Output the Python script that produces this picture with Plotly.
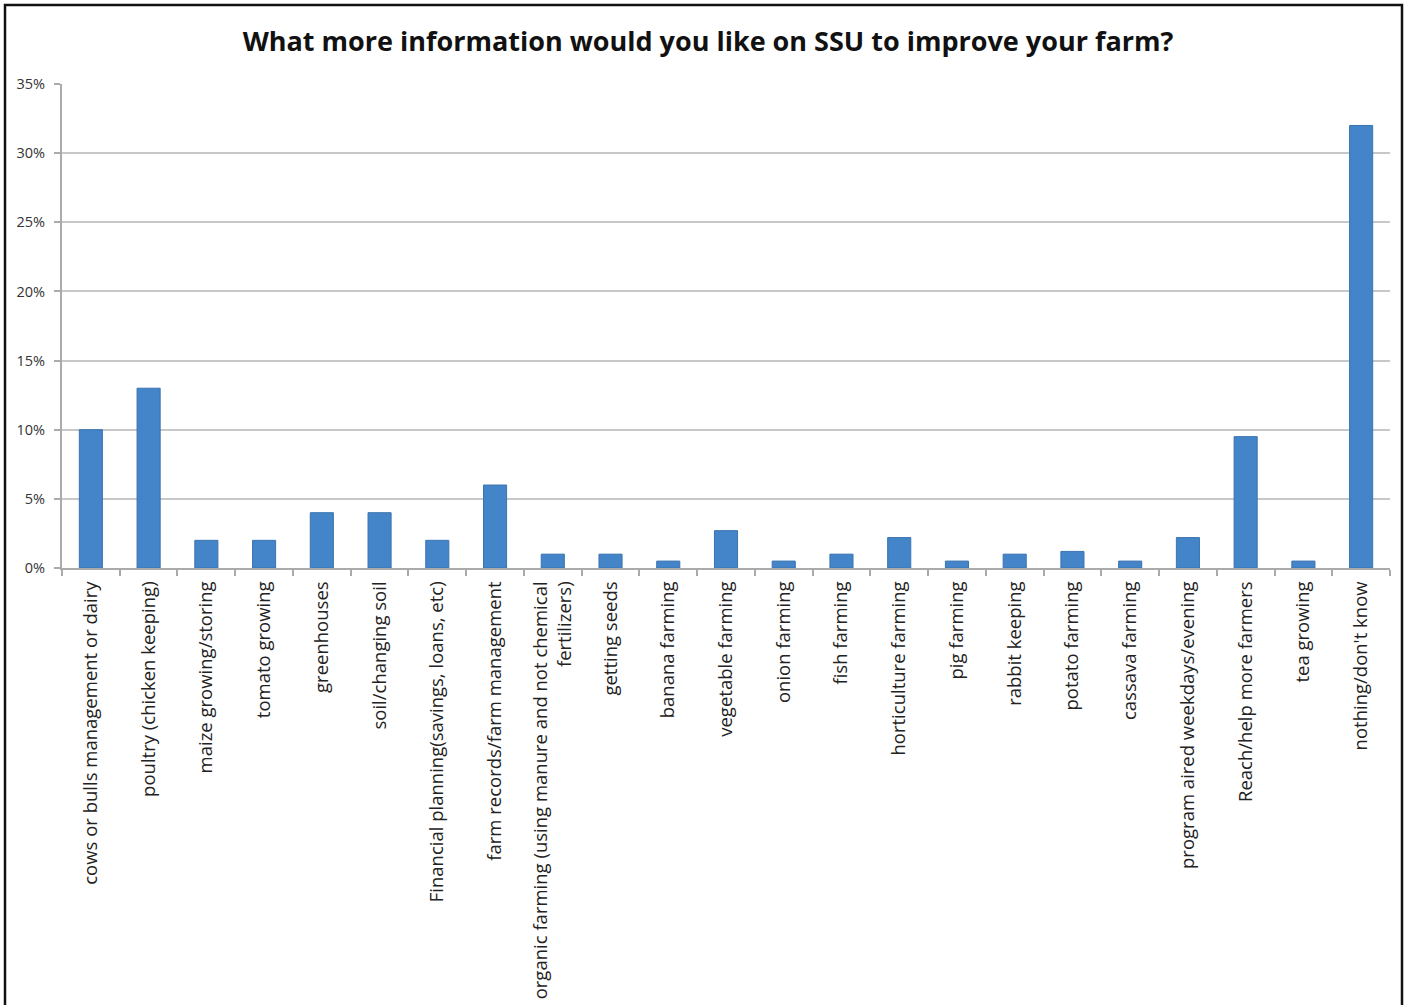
import plotly.graph_objects as go

categories = [
    "cows or bulls management or dairy",
    "poultry (chicken keeping)",
    "maize growing/storing",
    "tomato growing",
    "greenhouses",
    "soil/changing soil",
    "Financial planning(savings, loans, etc)",
    "farm records/farm management",
    "organic farming (using manure and not chemical<br>fertilizers)",
    "getting seeds",
    "banana farming",
    "vegetable farming",
    "onion farming",
    "fish farming",
    "horticulture farming",
    "pig farming",
    "rabbit keeping",
    "potato farming",
    "cassava farming",
    "program aired weekdays/evening",
    "Reach/help more farmers",
    "tea growing",
    "nothing/don't know",
]
values = [0.10, 0.13, 0.02, 0.02, 0.04, 0.04, 0.02, 0.06, 0.01, 0.01, 0.005,
          0.027, 0.005, 0.01, 0.022, 0.005, 0.01, 0.012, 0.005, 0.022, 0.095,
          0.005, 0.32]
y_ticks = [0, 0.05, 0.10, 0.15, 0.20, 0.25, 0.30, 0.35]
y_tick_labels = ["0%", "5%", "10%", "15%", "20%", "25%", "30%", "35%"]

W, H = 1405, 1005
L, R, T, B = 62, 15, 84, 437
pw, ph = W - L - R, H - T - B

def px_x(x):
    return (x - L) / pw

def px_y(y):
    return (H - B - y) / ph

fig = go.Figure(go.Bar(
    x=categories, y=values,
    marker=dict(color="#4385C8", line=dict(color="#3A74B0", width=1)),
    width=0.4,
))

fig.update_layout(
    width=W, height=H,
    margin=dict(l=L, r=R, t=T, b=B, autoexpand=False),
    paper_bgcolor="white", plot_bgcolor="white",
    font=dict(family="'Open Sans', sans-serif", color="#222"),
    showlegend=False,
    title=dict(text="<b>What more information would you like on SSU to improve your farm?</b>",
               x=px_x(708), xanchor="center", xref="paper", y=1 - 42 / H, yanchor="middle",
               font=dict(size=27, color="#111", family="'Open Sans', sans-serif")),
    shapes=[dict(type="rect", xref="paper", yref="paper",
                 x0=px_x(5), x1=px_x(1402), y0=px_y(1030), y1=px_y(5),
                 line=dict(color="#111", width=2.5), fillcolor="rgba(0,0,0,0)", layer="above")],
)
fig.update_xaxes(
    tickangle=-90, tickfont=dict(size=18.5, color="#222"),
    showline=True, linecolor="#AAAAAA", linewidth=2,
    ticks="outside", tickson="boundaries", ticklen=6, tickcolor="#AAAAAA", tickwidth=2,
    ticklabelstandoff=4, automargin=False,
    showgrid=False,
)
fig.update_yaxes(
    range=[0, 0.35], tickvals=y_ticks, ticktext=y_tick_labels,
    tickfont=dict(size=14.5, color="#333"),
    showgrid=True, gridcolor="#C8C8C8", gridwidth=2,
    showline=True, linecolor="#AAAAAA", linewidth=2,
    ticks="outside", ticklen=6, tickcolor="#AAAAAA", tickwidth=2,
    ticklabelstandoff=6, automargin=False,
    zeroline=False,
)

fig.write_html("out.html", config={"displayModeBar": False},
               post_script="document.body.style.margin='0';")
